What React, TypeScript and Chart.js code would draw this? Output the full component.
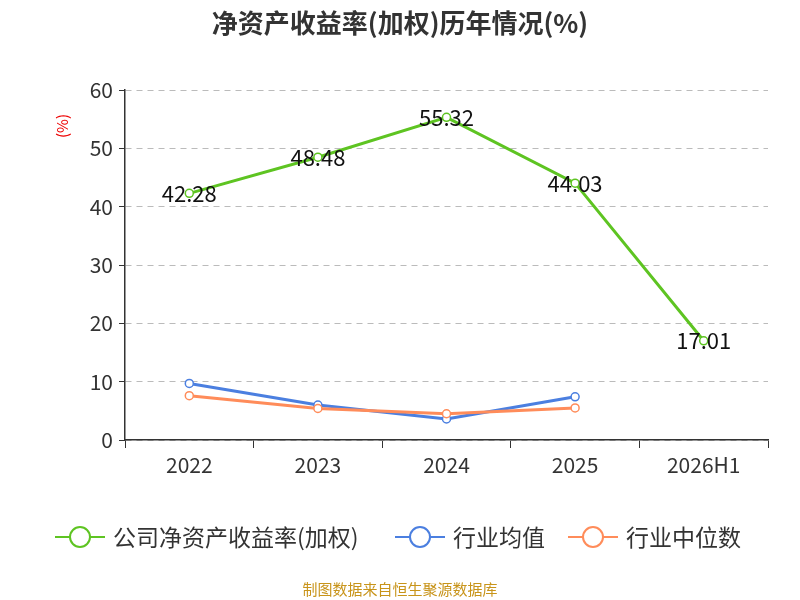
import React, { useEffect, useRef } from "react";
import { Chart, registerables } from "chart.js";
Chart.register(...registerables);

const categories = ["2022", "2023", "2024", "2025", "2026H1"];
const companyRoe = [42.28, 48.48, 55.32, 44.03, 17.01];
const industryAvg = [9.7, 6.0, 3.6, 7.4, null];
const industryMedian = [7.6, 5.4, 4.5, 5.5, null];
const seriesNames = ["公司净资产收益率(加权)", "行业均值", "行业中位数"];
const colors = ["#5ec422", "#4b7fe0", "#ff8c5a"];
const FONT = "'Noto Sans CJK SC', 'Noto Sans', sans-serif";

const extras = {
  id: "extras",
  afterDatasetsDraw(chart: any) {
    const ctx = chart.ctx;
    ctx.save();
    const meta = chart.getDatasetMeta(0);
    ctx.font = `22px ${FONT}`;
    ctx.fillStyle = "#111";
    ctx.textAlign = "center";
    ctx.textBaseline = "middle";
    meta.data.forEach((p: any, i: number) => {
      ctx.fillText(companyRoe[i].toFixed(2), p.x, p.y);
    });
    ctx.font = `bold 26px ${FONT}`;
    ctx.fillStyle = "#333";
    ctx.fillText("净资产收益率(加权)历年情况(%)", 400, 23);
    ctx.save();
    ctx.translate(62, 126);
    ctx.rotate(-Math.PI / 2);
    ctx.font = `15px ${FONT}`;
    ctx.fillStyle = "#e00";
    ctx.fillText("(%)", 0, 0);
    ctx.restore();
    const items = [
      { x: 55, w: 50 },
      { x: 395, w: 50 },
      { x: 568, w: 50 },
    ];
    ctx.font = `23px ${FONT}`;
    ctx.textAlign = "left";
    items.forEach((it, i) => {
      const y = 537;
      ctx.strokeStyle = colors[i];
      ctx.lineWidth = 2;
      ctx.beginPath();
      ctx.moveTo(it.x, y);
      ctx.lineTo(it.x + it.w, y);
      ctx.stroke();
      ctx.beginPath();
      ctx.arc(it.x + it.w / 2, y, 10, 0, Math.PI * 2);
      ctx.fillStyle = "#fff";
      ctx.fill();
      ctx.stroke();
      ctx.fillStyle = "#333";
      ctx.fillText(seriesNames[i], it.x + it.w + 8, y);
    });
    ctx.textAlign = "center";
    ctx.font = `15px ${FONT}`;
    ctx.fillStyle = "#c8941a";
    ctx.fillText("制图数据来自恒生聚源数据库", 400, 589);
    ctx.restore();
  },
};

export default function App() {
  const ref = useRef<HTMLCanvasElement>(null);
  useEffect(() => {
    const mk = (data: any[], i: number, order: number) => ({
      label: seriesNames[i],
      data,
      borderColor: colors[i],
      backgroundColor: "#fff",
      borderWidth: 3,
      pointRadius: 4,
      pointBorderWidth: 1.5,
      pointBackgroundColor: "#fff",
      pointBorderColor: colors[i],
      tension: 0,
      order,
    });
    const chart = new Chart(ref.current!, {
      type: "line",
      data: {
        labels: categories,
        datasets: [mk(companyRoe, 0, 3), mk(industryAvg, 1, 2), mk(industryMedian, 2, 1)],
      },
      options: {
        animation: false,
        responsive: false,
        layout: { padding: { left: 0, right: 32, top: 90, bottom: 120 } },
        plugins: { legend: { display: false }, tooltip: { enabled: false } },
        scales: {
          x: {
            offset: true,
            grid: { offset: true, drawOnChartArea: false, drawTicks: true, tickLength: 8, color: "#333" },
            border: { color: "#333", width: 1.5 },
            ticks: { font: { size: 21, family: FONT }, color: "#333", padding: 4 },
            afterFit: (s: any) => { s.height = 40; },
          },
          y: {
            min: 0,
            max: 60,
            ticks: { stepSize: 10, font: { size: 21, family: FONT }, color: "#333", padding: 6 },
            grid: { color: "#bbb", tickLength: 6, tickColor: "#333", lineWidth: 1 },
            border: { color: "#333", width: 1.5, dash: [6, 5] },
            afterFit: (s: any) => { s.width = 125; },
          },
        },
      },
      plugins: [extras],
    });
    return () => chart.destroy();
  }, []);
  return (
    <div style={{ position: "absolute", left: 0, top: 0, width: 800, height: 600, background: "#fff" }}>
      <canvas ref={ref} width={800} height={600} />
    </div>
  );
}
